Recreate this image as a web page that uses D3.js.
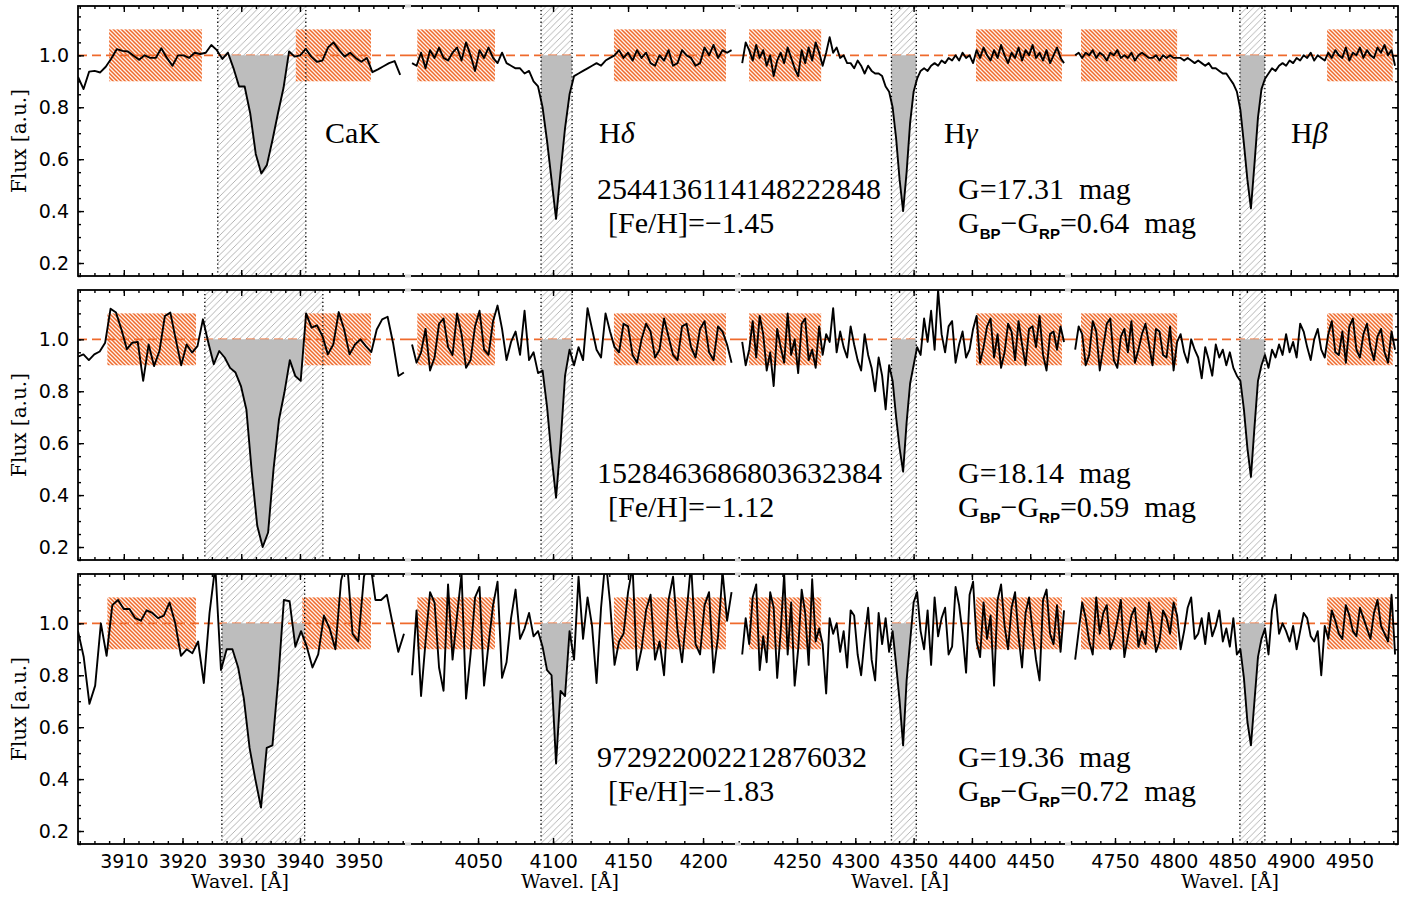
<!DOCTYPE html>
<html>
<head>
<meta charset="utf-8">
<script src="https://cdn.jsdelivr.net/npm/d3@7"></script>
<style>
  body { margin: 0; background: #fff; }
</style>
</head>
<body>
<svg id="chart" width="1425" height="905"></svg>
<script>
// ---- data ----
const panelDomains = [[3902.2, 3958.4], [4003.3, 4223.3], [4199.4, 4482.4], [4709.9, 4991.5]];
const majorTicks = [
  [3910, 3920, 3930, 3940, 3950],
  [4050, 4100, 4150, 4200],
  [4250, 4300, 4350, 4400, 4450],
  [4750, 4800, 4850, 4900, 4950]
];
const minorStep = [2.5, 12.5, 12.5, 12.5];
const yDomain = [0.15, 1.19];
const yMajor = [0.2, 0.4, 0.6, 0.8, 1.0];

const lineBase = ["CaK", "H", "H", "H"];
const lineGreek = ["", "δ", "γ", "β"];

// line windows (grey hatched) : CaK differs per star, Balmer lines shared
const caKWindows = [[3926.0, 3941.0], [3923.8, 3943.9], [3926.7, 3940.8]];
const balmerWindows = [[4092.0, 4112.7], [4331.0, 4352.3], [4856.6, 4877.9]];
// continuum windows (orange hatched)
const caKCont = [
  [[3907.5, 3923.3], [3939.3, 3952.1]],
  [[3907.2, 3922.3], [3940.8, 3952.1]],
  [[3907.2, 3922.3], [3940.4, 3952.1]]
];
const balmerCont = [
  [[4009.5, 4061.3], [4140.6, 4215.3]],
  [[4208.9, 4270.7], [4403.5, 4477.2]],
  [[4721.0, 4803.0], [4931.0, 4987.0]]
];

const gaiaIds = ["2544136114148222848", "1528463686803632384", "972922002212876032"];
const fehValues = [-1.45, -1.12, -1.83];
const gMags = [17.31, 18.14, 19.36];
const bpRp = [0.64, 0.59, 0.72];

// spectra sampling
const specStart = [3902.2, 4006, 4203, 4716];
const caKStep = [0.946, 0.925, 0.974];
const balmerStep = 3;

// star 1
const s1CaK = [0.917,0.87,0.937,0.94,0.934,0.956,0.988,1.024,1.017,1.015,
  0.998,0.983,1.0,0.99,0.99,1.027,0.99,0.96,1.0,1.0,
  0.99,1.01,1.005,1.01,1.04,1.02,0.986,1.01,0.95,0.88,
  0.88,0.777,0.62,0.545,0.577,0.673,0.777,0.875,1.015,0.995,
  1.0,1.025,0.995,0.975,0.98,1.03,1.05,1.02,0.995,1.01,
  0.99,0.975,0.99,0.935,0.946,0.958,0.97,0.978,0.925];
const s1Hd = [0.97,0.96,1.01,0.95,1.02,0.99,1.03,0.99,0.98,1.01,
  1.03,0.98,1.05,1.00,0.94,1.02,0.99,1.03,0.99,0.97,
  1.01,0.97,0.96,0.95,0.95,0.93,0.94,0.90,0.88,0.80,
  0.67,0.52,0.37,0.55,0.72,0.85,0.92,0.93,0.94,0.95,
  0.96,0.97,0.96,0.98,0.99,1.00,1.02,0.99,1.01,0.98,
  1.02,0.99,1.01,0.97,0.96,1.00,0.98,1.02,0.96,0.97,
  1.02,1.00,0.99,0.96,0.97,1.03,1.00,1.04,0.99,1.02,
  1.01,1.02];
const s1Hg = [0.97,1.05,1.02,0.98,1.04,0.99,1.02,0.96,1.00,0.92,
  0.98,1.01,0.97,1.03,0.99,0.95,0.92,1.02,0.97,1.03,
  0.98,1.05,1.01,0.96,1.01,1.07,1.01,1.03,0.99,1.00,
  0.97,0.97,0.95,0.98,0.96,0.93,0.96,0.94,0.93,0.93,
  0.92,0.88,0.86,0.80,0.68,0.52,0.40,0.55,0.74,0.86,
  0.91,0.94,0.95,0.94,0.96,0.97,0.96,0.98,0.97,0.99,
  0.98,1.00,0.98,1.01,0.99,1.00,0.97,1.02,0.99,1.03,
  1.00,0.98,1.02,0.99,1.04,1.00,0.97,1.01,0.99,1.03,
  0.98,1.02,1.00,1.04,0.99,1.01,0.98,1.02,0.97,1.00,
  1.03,0.99,0.97];
const s1Hb = [1.00,1.01,0.99,1.01,1.00,1.02,0.99,1.01,1.00,0.98,
  1.01,1.00,1.02,0.99,1.00,0.99,1.01,0.98,1.00,1.01,
  1.00,0.99,0.99,1.00,0.98,1.00,0.99,1.00,0.99,0.99,
  0.99,0.98,0.99,0.98,0.97,0.98,0.97,0.96,0.97,0.95,
  0.95,0.94,0.93,0.93,0.91,0.89,0.86,0.79,0.66,0.52,
  0.41,0.58,0.76,0.87,0.91,0.93,0.95,0.94,0.96,0.97,
  0.96,0.98,0.97,0.99,0.98,1.00,0.99,1.01,0.98,1.00,
  0.99,0.98,1.01,0.99,1.02,1.00,0.99,1.03,0.98,1.01,
  1.00,1.03,0.99,1.02,1.00,0.99,1.03,1.01,1.04,1.00,
  1.02,0.96];

// star 2
const s2CaK = [0.933,0.942,0.92,0.942,0.953,0.987,1.118,1.103,1.038,0.962,
  0.987,0.99,0.84,0.98,0.897,0.955,1.09,1.103,1.0,0.9,
  0.98,0.949,0.974,1.077,0.987,0.904,0.955,0.93,0.89,0.872,
  0.82,0.73,0.487,0.282,0.2,0.256,0.5,0.69,0.795,0.92,
  0.859,0.84,1.1,1.045,1.054,1.013,0.942,0.98,1.105,1.038,
  0.942,0.98,1.0,0.974,0.951,1.038,1.077,1.087,0.987,0.859,
  0.872];
const s2Hd = [0.98,0.91,0.95,1.04,0.88,0.93,1.06,1.08,0.97,0.94,
  1.10,1.02,0.89,0.92,1.05,1.11,0.96,0.94,1.07,1.13,
  1.04,0.92,0.99,1.03,0.94,1.11,0.92,0.95,0.87,0.88,
  0.74,0.55,0.39,0.60,0.86,0.96,0.90,0.97,0.92,1.12,
  1.04,0.96,0.93,1.10,1.03,0.97,0.95,1.06,1.05,0.94,
  0.91,1.00,1.06,1.03,0.93,0.96,1.08,1.01,0.94,0.92,
  1.05,1.06,0.97,0.93,1.04,1.07,0.95,0.92,1.05,1.03,
  0.98,0.91];
const s2Hg = [0.99,0.90,0.96,1.07,0.93,1.09,1.02,0.88,0.95,0.82,
  1.04,0.97,0.91,1.10,0.94,1.00,0.87,1.06,1.08,0.92,
  0.96,0.89,1.05,0.94,1.02,0.99,1.12,0.95,1.03,0.97,
  0.93,1.05,0.98,0.92,0.88,1.02,0.94,0.89,0.80,0.93,
  0.86,0.73,0.90,0.84,0.70,0.58,0.49,0.68,0.83,0.90,
  0.97,0.94,1.08,0.99,1.11,0.96,1.19,1.02,0.95,1.05,
  1.07,0.91,0.98,1.03,0.93,0.96,1.04,1.09,0.91,0.97,
  1.05,1.08,0.93,1.02,0.89,0.95,1.06,1.03,0.92,1.07,
  0.98,0.90,1.04,1.05,0.97,1.09,0.94,0.88,1.02,1.03,
  0.96,1.05,0.99];
const s2Hb = [0.96,1.05,1.02,0.90,0.94,1.07,1.03,0.88,0.97,1.06,
  1.08,0.92,0.89,1.01,1.04,0.95,1.07,0.91,0.96,1.02,
  1.06,0.98,0.90,1.04,1.03,0.94,0.93,1.05,0.88,0.99,
  1.02,0.95,0.91,1.00,0.96,0.93,0.85,0.97,0.92,0.86,
  0.98,0.93,0.96,0.90,0.95,0.89,0.86,0.84,0.73,0.58,
  0.47,0.66,0.84,0.90,0.94,0.89,0.96,0.93,0.98,0.94,
  1.02,0.95,0.99,0.93,1.06,1.03,0.97,0.92,1.00,1.04,
  0.96,0.93,1.02,1.07,0.95,0.94,1.03,0.91,1.05,1.08,
  0.96,0.93,1.02,1.06,0.97,0.92,1.01,1.04,0.95,0.91,
  1.03,0.96];

// star 3
const s3CaK = [0.97,0.87,0.69,0.76,1.00,0.875,1.07,1.09,1.055,1.055,
  1.02,1.01,1.05,1.04,1.02,1.03,1.08,1.00,0.875,0.90,
  0.885,0.93,0.77,1.04,1.22,0.82,0.90,0.90,0.83,0.71,
  0.52,0.40,0.29,0.52,0.53,0.78,1.09,1.085,0.91,0.97,
  0.91,0.83,0.88,1.03,0.98,0.90,1.165,1.25,0.96,0.93,
  1.18,1.25,1.09,1.09,1.11,1.00,0.89,0.96];
const s3Hd = [0.80,1.05,0.72,0.93,1.12,1.08,0.83,0.74,1.15,0.86,
  1.03,1.19,0.71,0.88,1.10,1.14,0.76,0.92,1.07,1.16,
  0.79,0.85,1.02,1.13,0.94,0.98,1.04,0.95,0.97,0.91,
  0.82,0.80,0.46,0.74,0.72,0.97,0.86,1.18,0.94,1.10,
  0.99,0.77,1.06,1.25,1.08,0.84,0.93,0.96,1.12,1.22,
  0.82,0.90,1.05,1.11,0.86,0.93,0.80,1.09,1.18,0.97,
  0.85,1.04,1.23,0.92,0.88,1.07,1.12,0.81,0.95,1.20,
  1.01,1.12];
const s3Hg = [0.88,1.02,0.92,1.10,1.15,0.82,0.95,0.85,1.12,1.06,
  0.79,0.97,1.19,0.88,1.08,0.76,0.90,1.13,1.04,0.84,
  1.17,0.93,0.98,0.92,0.73,1.02,0.96,1.00,0.89,0.97,
  0.83,1.05,1.03,0.88,0.80,0.94,1.06,0.86,0.78,1.04,
  0.92,1.02,0.89,0.97,0.84,0.70,0.53,0.78,0.93,1.08,
  1.12,0.97,0.90,1.05,0.84,1.10,0.95,1.02,1.06,0.88,
  0.91,1.14,1.07,0.96,0.81,1.11,1.16,0.93,0.87,1.08,
  0.94,1.03,0.76,1.09,1.15,0.99,0.90,1.06,1.12,0.95,
  0.83,1.04,1.10,0.97,0.86,0.78,1.09,1.13,0.96,0.92,
  1.07,0.89,1.05];
const s3Hb = [0.86,0.97,1.08,1.02,0.93,0.88,1.10,0.96,1.04,1.07,
  0.90,0.94,1.01,1.09,0.87,0.95,1.03,1.06,0.91,0.97,
  0.92,1.08,1.00,0.89,0.93,1.05,1.02,0.96,1.08,1.03,
  0.90,0.97,1.06,1.10,0.94,0.96,1.02,0.92,1.04,0.95,
  0.99,1.05,0.93,0.98,0.91,1.02,0.88,0.90,0.79,0.62,
  0.53,0.70,0.87,0.94,0.98,0.88,1.05,1.11,0.96,1.00,
  0.97,0.93,0.99,0.90,0.97,1.04,1.02,0.95,0.93,0.97,
  0.80,0.99,0.94,1.05,1.01,0.96,0.94,1.07,1.03,0.97,
  0.95,1.06,1.02,0.98,0.94,1.04,1.09,0.99,0.96,0.93,
  1.11,0.88];

const spectra = [
  [s1CaK, s1Hd, s1Hg, s1Hb],
  [s2CaK, s2Hd, s2Hg, s2Hb],
  [s3CaK, s3Hd, s3Hg, s3Hb]
];

// ---- layout ----
const edges = [78, 408, 738, 1068, 1398];
const rowTop = [6, 290, 574];
const rowH = 270;
const labelX = [325, 599, 944, 1291];
const orange = "#EF6A2C";
const tickFont = "'DejaVu Sans', sans-serif";
const titleFont = "'DejaVu Serif', serif";
const serif = "'Liberation Serif', serif";

const svg = d3.select("#chart");
const defs = svg.append("defs");

// grey hatch for line windows
const pg = defs.append("pattern").attr("id", "hatchGrey")
  .attr("patternUnits", "userSpaceOnUse").attr("width", 6.5).attr("height", 6.5);
pg.append("path").attr("d", "M0,6.5 L6.5,0 M-1,1 L1,-1 M5.5,7.5 L7.5,5.5")
  .attr("stroke", "#ababab").attr("stroke-width", 0.9);

// orange hatch for continuum windows
const po = defs.append("pattern").attr("id", "hatchOrange")
  .attr("patternUnits", "userSpaceOnUse").attr("width", 4).attr("height", 4);
po.append("rect").attr("width", 4).attr("height", 4).attr("fill", "#fff3ec");
po.append("path").attr("d", "M0,0 L4,4 M-1,3 L1,5 M3,-1 L5,1")
  .attr("stroke", orange).attr("stroke-width", 1.5);

const xScales = panelDomains.map((d, i) => d3.scaleLinear().domain(d).range([edges[i], edges[i + 1]]));

function windowFill(pts, w0, w1) {
  // points of the spectrum inside [w0,w1], clipped to flux <= 1
  const out = [];
  const interp = (a, b, w) => a.f + (b.f - a.f) * (w - a.w) / (b.w - a.w);
  for (let i = 0; i < pts.length - 1; i++) {
    const a = pts[i], b = pts[i + 1];
    if (a.w <= w0 && b.w > w0) out.push({ w: w0, f: interp(a, b, w0) });
    if (a.w >= w0 && a.w <= w1) out.push(a);
    if (Math.max(a.w, w0) < Math.min(b.w, w1) && (a.f - 1) * (b.f - 1) < 0) {
      const wc = a.w + (1 - a.f) * (b.w - a.w) / (b.f - a.f);
      if (wc > w0 && wc < w1) out.push({ w: wc, f: 1 });
    }
    if (a.w < w1 && b.w >= w1) out.push({ w: w1, f: interp(a, b, w1) });
  }
  out.sort((p, q) => p.w - q.w);
  return out;
}

const styleAxis = sel => {
  sel.select(".domain").remove();
  sel.selectAll("line").attr("stroke", "#000").attr("stroke-width", 1.4);
  sel.selectAll("text").attr("fill", "#000")
    .attr("font-family", tickFont).attr("font-size", 19);
};

rowTop.forEach((top, r) => {
  const y = d3.scaleLinear().domain(yDomain).range([top + rowH, top]);
  const row = svg.append("g");

  for (let p = 0; p < 4; p++) {
    const x = xScales[p];
    const clipId = `clip-${r}-${p}`;
    defs.append("clipPath").attr("id", clipId).append("rect")
      .attr("x", edges[p]).attr("y", top).attr("width", edges[p + 1] - edges[p]).attr("height", rowH);
    const g = row.append("g").attr("clip-path", `url(#${clipId})`);

    const win = p === 0 ? caKWindows[r] : balmerWindows[p - 1];
    const conts = p === 0 ? caKCont[r] : balmerCont[p - 1];
    const step = p === 0 ? caKStep[r] : balmerStep;
    const pts = spectra[r][p].map((f, i) => ({ w: specStart[p] + i * step, f: f }));

    // line window hatch
    g.append("rect")
      .attr("x", x(win[0])).attr("y", top)
      .attr("width", x(win[1]) - x(win[0])).attr("height", rowH)
      .attr("fill", "url(#hatchGrey)");

    // continuum windows
    g.selectAll("rect.cont").data(conts).join("rect").attr("class", "cont")
      .attr("x", d => x(d[0])).attr("y", y(1.1))
      .attr("width", d => x(d[1]) - x(d[0])).attr("height", y(0.9) - y(1.1))
      .attr("fill", "url(#hatchOrange)");

    // continuum level
    g.append("line")
      .attr("x1", edges[p]).attr("x2", edges[p + 1])
      .attr("y1", y(1)).attr("y2", y(1))
      .attr("stroke", orange).attr("stroke-width", 1.6)
      .attr("stroke-dasharray", "9,5");

    // filled absorption
    const area = d3.area()
      .x(d => x(d.w))
      .y0(y(1))
      .y1(d => y(Math.min(d.f, 1)));
    g.append("path").datum(windowFill(pts, win[0], win[1]))
      .attr("d", area).attr("fill", "#bdbdbd");

    // window borders
    g.selectAll("line.win").data(win).join("line").attr("class", "win")
      .attr("x1", d => x(d)).attr("x2", d => x(d))
      .attr("y1", top).attr("y2", top + rowH)
      .attr("stroke", "#000").attr("stroke-width", 1.3)
      .attr("stroke-dasharray", "1.3,2.6");

    // spectrum
    g.append("path").datum(pts)
      .attr("d", d3.line().x(d => x(d.w)).y(d => y(d.f)))
      .attr("fill", "none").attr("stroke", "#000")
      .attr("stroke-width", 1.9).attr("stroke-linejoin", "round");

    // ticks
    const minor = d3.range(Math.ceil(panelDomains[p][0] / minorStep[p]) * minorStep[p], panelDomains[p][1], minorStep[p]);
    row.append("g").attr("transform", `translate(0,${top + rowH})`)
      .call(d3.axisBottom(x).tickValues(minor).tickSize(-3).tickFormat(""))
      .call(styleAxis);
    row.append("g").attr("transform", `translate(0,${top + rowH})`)
      .call(d3.axisBottom(x).tickValues(majorTicks[p]).tickSize(-6).tickPadding(11)
        .tickFormat(r === 2 ? d3.format("d") : () => ""))
      .call(styleAxis);
    row.append("g").attr("transform", `translate(0,${top})`)
      .call(d3.axisTop(x).tickValues(minor).tickSize(-3).tickFormat(""))
      .call(styleAxis);
    row.append("g").attr("transform", `translate(0,${top})`)
      .call(d3.axisTop(x).tickValues(majorTicks[p]).tickSize(-6).tickFormat(""))
      .call(styleAxis);

    if (r === 2) {
      row.append("text")
        .attr("x", (edges[p] + edges[p + 1]) / 2 - 3).attr("y", 888)
        .attr("text-anchor", "middle")
        .attr("font-family", titleFont).attr("font-size", 19)
        .text("Wavel. [Å]");
    }
  }

  // y axes
  const yMinor = d3.range(0.15, 1.19, 0.05);
  row.append("g").attr("transform", `translate(${edges[0]},0)`)
    .call(d3.axisLeft(y).tickValues(yMinor).tickSize(-3).tickFormat("")).call(styleAxis);
  row.append("g").attr("transform", `translate(${edges[0]},0)`)
    .call(d3.axisLeft(y).tickValues(yMajor).tickSize(-6).tickPadding(9).tickFormat(d3.format(".1f")))
    .call(styleAxis);
  row.append("g").attr("transform", `translate(${edges[4]},0)`)
    .call(d3.axisRight(y).tickValues(yMinor).tickSize(-3).tickFormat("")).call(styleAxis);
  row.append("g").attr("transform", `translate(${edges[4]},0)`)
    .call(d3.axisRight(y).tickValues(yMajor).tickSize(-6).tickFormat("")).call(styleAxis);

  row.append("text")
    .attr("transform", `translate(26,${top + rowH / 2}) rotate(-90)`)
    .attr("text-anchor", "middle")
    .attr("font-family", titleFont).attr("font-size", 20)
    .text("Flux [a.u.]");

  // frame with break marks
  row.append("rect")
    .attr("x", edges[0]).attr("y", top)
    .attr("width", edges[4] - edges[0]).attr("height", rowH)
    .attr("fill", "none").attr("stroke", "#000").attr("stroke-width", 1.8);
  [1, 2, 3].forEach(k => {
    [top, top + rowH].forEach(yy => {
      row.append("line")
        .attr("x1", edges[k] - 3).attr("x2", edges[k] + 3)
        .attr("y1", yy).attr("y2", yy)
        .attr("stroke", "#d4d4d4").attr("stroke-width", 3);
    });
  });

  // line labels on the first row
  if (r === 0) {
    lineBase.forEach((b, i) => {
      const t = row.append("text")
        .attr("x", labelX[i]).attr("y", top + 137)
        .attr("font-family", serif).attr("font-size", 30)
        .text(b);
      if (lineGreek[i]) t.append("tspan").attr("font-style", "italic").text(lineGreek[i]);
    });
  }

  // star annotations
  row.append("text").attr("x", 597).attr("y", top + 193)
    .attr("font-family", serif).attr("font-size", 30)
    .text(gaiaIds[r]);
  row.append("text").attr("x", 608).attr("y", top + 227)
    .attr("font-family", serif).attr("font-size", 30)
    .text(`[Fe/H]=${d3.format(".2f")(fehValues[r]).replace("-", "\u2212")}`);
  row.append("text").attr("x", 958).attr("y", top + 193)
    .attr("font-family", serif).attr("font-size", 30)
    .style("white-space", "pre")
    .text(`G=${gMags[r].toFixed(2)}  mag`);
  const c = row.append("text").attr("x", 958).attr("y", top + 227)
    .attr("font-family", serif).attr("font-size", 30)
    .style("white-space", "pre");
  c.append("tspan").text("G");
  c.append("tspan").attr("font-family", "'Liberation Sans', sans-serif").attr("font-weight", "bold")
    .attr("font-size", 15).attr("dy", 6).text("BP");
  c.append("tspan").attr("dy", -6).text("\u2212G");
  c.append("tspan").attr("font-family", "'Liberation Sans', sans-serif").attr("font-weight", "bold")
    .attr("font-size", 15).attr("dy", 6).text("RP");
  c.append("tspan").attr("dy", -6).text(`=${bpRp[r].toFixed(2)}  mag`);
});
</script>
</body>
</html>
